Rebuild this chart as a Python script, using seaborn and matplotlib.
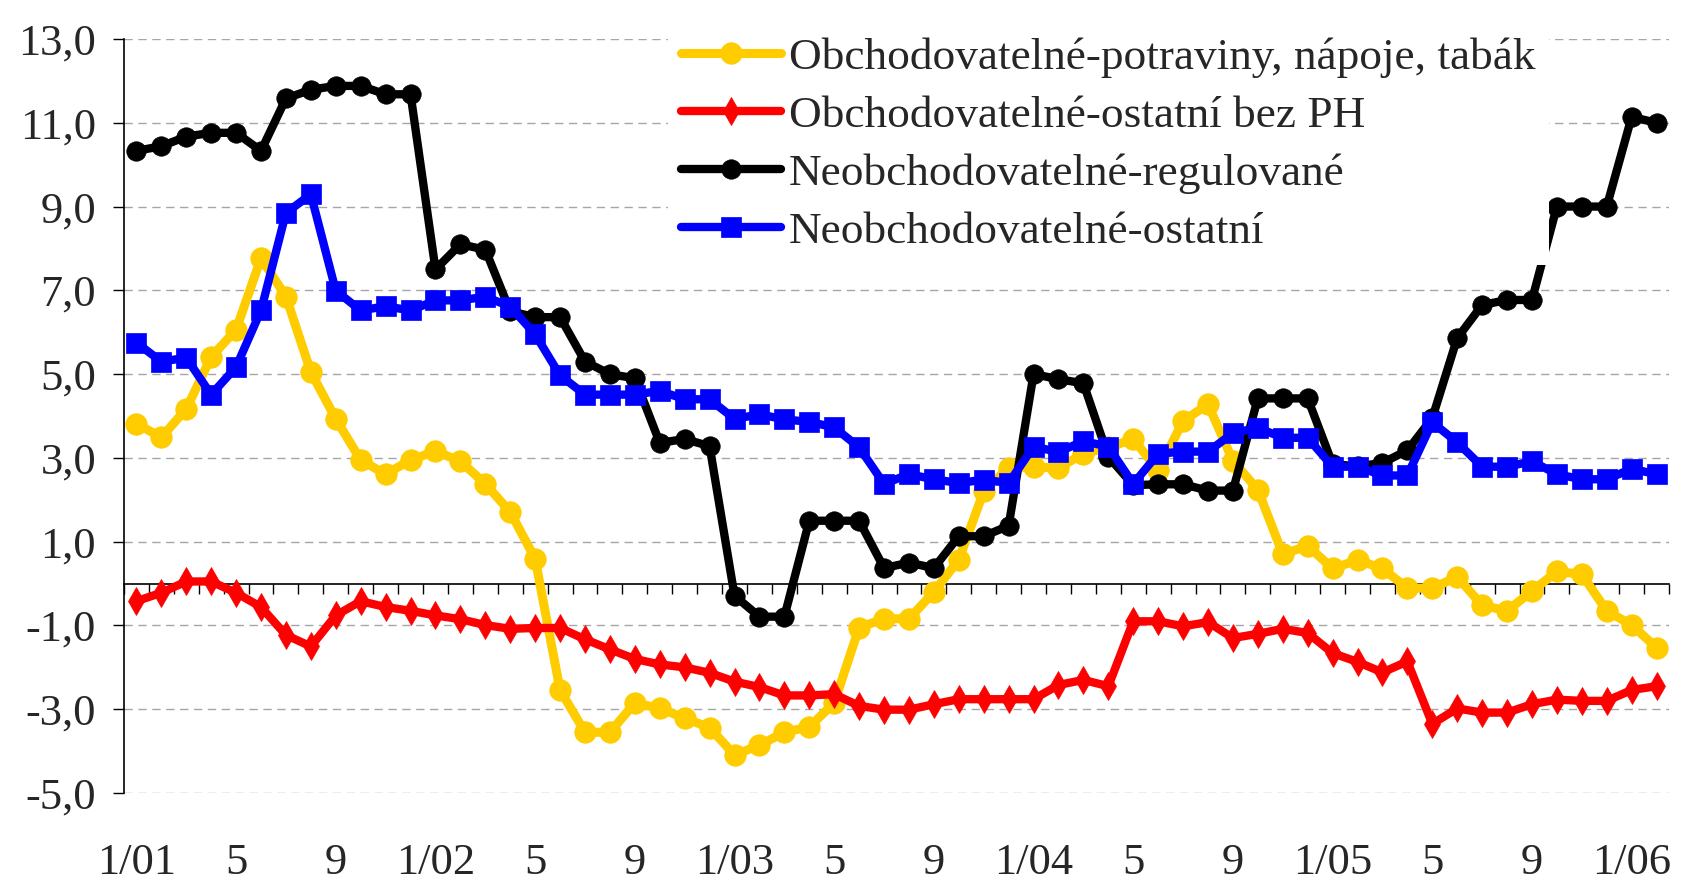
import seaborn as sns
import matplotlib.pyplot as plt
import numpy as np
import pandas as pd

## Monthly data, 1/01 .. 2/06 (62 months)
potraviny = [3.82, 3.49, 4.17, 5.41, 6.06, 7.77, 6.85, 5.05, 3.93, 2.95, 2.61, 2.95,
             3.16, 2.92, 2.38, 1.71, 0.59, -2.54, -3.55, -3.55, -2.85, -2.98, -3.21, -3.44,
             -4.09, -3.86, -3.55, -3.42, -2.85, -1.05, -0.84, -0.84, -0.2, 0.57, 2.2, 2.77,
             2.78, 2.76, 3.1, 3.25, 3.45, 2.7, 3.88, 4.28, 2.93, 2.24, 0.7, 0.9,
             0.36, 0.56, 0.36, -0.11, -0.11, 0.16, -0.52, -0.65, -0.18, 0.29, 0.22, -0.65,
             -0.99, -1.53]
ostatni_bez_ph = [-0.42, -0.22, 0.05, 0.05, -0.22, -0.56, -1.23, -1.5, -0.76, -0.42, -0.56, -0.65,
                  -0.76, -0.85, -0.99, -1.08, -1.06, -1.06, -1.33, -1.57, -1.8, -1.93, -2.0, -2.13,
                  -2.34, -2.47, -2.67, -2.67, -2.64, -2.92, -3.01, -3.01, -2.88, -2.76, -2.76, -2.76,
                  -2.76, -2.42, -2.3, -2.45, -0.9, -0.9, -1.02, -0.92, -1.3, -1.2, -1.08, -1.18,
                  -1.66, -1.87, -2.12, -1.86, -3.35, -2.98, -3.08, -3.08, -2.88, -2.77, -2.8, -2.8,
                  -2.54, -2.45]
regulovane = [10.33, 10.44, 10.67, 10.76, 10.76, 10.33, 11.58, 11.79, 11.88, 11.88, 11.68, 11.68,
              7.5, 8.1, 7.97, 6.5, 6.36, 6.36, 5.3, 5.0, 4.9, 3.36, 3.45, 3.28,
              -0.29, -0.79, -0.79, 1.5, 1.5, 1.5, 0.37, 0.5, 0.37, 1.13, 1.13, 1.38,
              5.0, 4.88, 4.78, 3.03, 2.35, 2.37, 2.37, 2.22, 2.22, 4.42, 4.42, 4.42,
              2.85, 2.8, 2.88, 3.18, 3.95, 5.86, 6.65, 6.77, 6.77, 9.0, 9.0, 9.0,
              11.14, 11.0]
neobch_ostatni = [5.75, 5.3, 5.39, 4.51, 5.17, 6.52, 8.85, 9.29, 6.99, 6.52, 6.62, 6.52,
                  6.76, 6.76, 6.85, 6.61, 5.95, 4.97, 4.51, 4.51, 4.51, 4.6, 4.4, 4.4,
                  3.93, 4.04, 3.92, 3.86, 3.73, 3.25, 2.38, 2.61, 2.49, 2.4, 2.48, 2.4,
                  3.27, 3.14, 3.4, 3.27, 2.38, 3.1, 3.15, 3.15, 3.59, 3.72, 3.48, 3.48,
                  2.79, 2.79, 2.58, 2.58, 3.85, 3.37, 2.79, 2.79, 2.92, 2.61, 2.49, 2.49,
                  2.74, 2.61]

tick_labels = ["1/01", "5", "9", "1/02", "5", "9", "1/03", "5", "9",
               "1/04", "5", "9", "1/05", "5", "9", "1/06"]
y_ticks = [-5, -3, -1, 1, 3, 5, 7, 9, 11, 13]

names = ["Obchodovatelné-potraviny, nápoje, tabák",
         "Obchodovatelné-ostatní bez PH",
         "Neobchodovatelné-regulované",
         "Neobchodovatelné-ostatní"]
colors = ["#FFCC00", "#FF0000", "#000000", "#0000FF"]
markers = ["o", "d", "o", "s"]
msizes = [15.5, 14, 14, 14.5]
lwidths = [6.5, 6, 6, 6]

data = pd.DataFrame({"month": np.arange(len(potraviny)),
                     names[0]: potraviny, names[1]: ostatni_bez_ph,
                     names[2]: regulovane, names[3]: neobch_ostatni})

sns.set_theme(style="white")
plt.rcParams.update({'font.family': ['Liberation Serif', 'DejaVu Serif']})

fig = plt.figure(figsize=(16.82, 8.84), dpi=100)
ax = fig.add_axes([0.0737, 0.1029, 0.9186, 0.853])

for i, name in enumerate(names):
    sns.lineplot(data=data, x="month", y=name, ax=ax, color=colors[i],
                 marker=markers[i], markersize=msizes[i], linewidth=lwidths[i],
                 markeredgecolor=colors[i], markeredgewidth=0.5,
                 solid_joinstyle="round", solid_capstyle="round",
                 label=name, zorder=3 + i)

#--Axes limits / grid
ax.set_xlim(-0.5, len(potraviny) - 0.5)
ax.set_ylim(-5, 13)
ax.set_xlabel("")
ax.set_ylabel("")
ax.set_yticks(y_ticks)
ax.set_yticklabels([f"{v:.1f}".replace(".", ",") for v in y_ticks], fontsize=32)
ax.yaxis.grid(True, color="#a6a6a6", linestyle=(0, (6, 4)), linewidth=1.0)
ax.tick_params(axis="y", direction="out", length=8, width=1, color="black", pad=12,
               left=True)

for s in ["top", "right"]:
    ax.spines[s].set_visible(False)
ax.spines["left"].set_color("black")
ax.spines["left"].set_linewidth(1.2)
ax.spines["bottom"].set_position(("data", 0))
ax.spines["bottom"].set_color("black")
ax.spines["bottom"].set_linewidth(1.2)
ax.spines["bottom"].set_zorder(2.5)

# category boundary ticks on the zero line
ax.set_xticks(np.arange(-0.5, len(potraviny), 1.0))
ax.set_xticklabels([])
ax.tick_params(axis="x", direction="out", length=7, width=1, color="black", bottom=True)

# month labels at the bottom
sec = ax.secondary_xaxis("bottom")
sec.set_xticks(np.arange(0, len(potraviny), 4), tick_labels)
sec.tick_params(axis="x", length=0, pad=36, labelsize=32)
sec.spines["bottom"].set_visible(False)

leg = ax.legend(loc="upper left", bbox_to_anchor=(0.352, 1.02), fontsize=32.6,
                frameon=True, facecolor="white", edgecolor="none", framealpha=1,
                fancybox=False, borderpad=0.3, labelspacing=0.38,
                handlelength=2.2, handletextpad=0.17, borderaxespad=0, numpoints=1)
leg.set_zorder(10)

fig.savefig("out.png", dpi=100)
plt.close()
